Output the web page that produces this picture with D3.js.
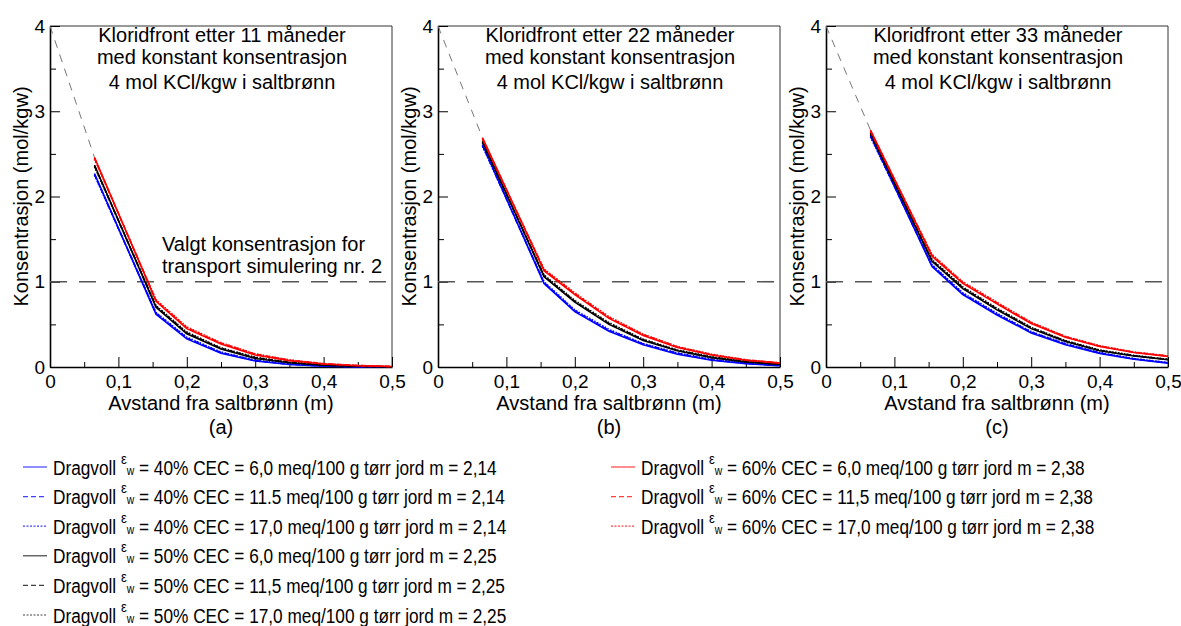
<!DOCTYPE html>
<html>
<head>
<meta charset="utf-8">
<script src="https://cdn.jsdelivr.net/npm/d3@7"></script>
<style>
  body { margin: 0; background: #fff; }
  text { font-family: "Liberation Sans", Arial, sans-serif; fill: #000; }
</style>
</head>
<body>
<div id="chart"></div>
<script>
// distance from the salt well (m), shared by every series
const xDist = [0.065, 0.155, 0.2, 0.25, 0.3, 0.35, 0.4, 0.45, 0.5];

// panel (a), 11 months. name = panel + porosity + CEC
const a40_60  = [2.27, 0.62, 0.33, 0.16, 0.07, 0.03, 0.010, 0.003, 0.000];
const a40_115 = [2.26, 0.63, 0.34, 0.17, 0.075, 0.033, 0.012, 0.004, 0.001];
const a40_170 = [2.25, 0.64, 0.35, 0.175, 0.08, 0.036, 0.013, 0.004, 0.001];
const a50_60  = [2.37, 0.70, 0.39, 0.21, 0.10, 0.05, 0.020, 0.008, 0.002];
const a50_115 = [2.36, 0.71, 0.40, 0.22, 0.11, 0.053, 0.022, 0.009, 0.002];
const a50_170 = [2.35, 0.72, 0.41, 0.225, 0.115, 0.056, 0.024, 0.010, 0.003];
const a60_60  = [2.46, 0.77, 0.45, 0.27, 0.14, 0.075, 0.035, 0.015, 0.005];
const a60_115 = [2.45, 0.78, 0.46, 0.28, 0.15, 0.080, 0.038, 0.017, 0.006];
const a60_170 = [2.44, 0.79, 0.47, 0.285, 0.155, 0.083, 0.040, 0.018, 0.006];

// panel (b), 22 months
const b40_60  = [2.61, 0.98, 0.65, 0.42, 0.26, 0.15, 0.080, 0.040, 0.015];
const b40_115 = [2.60, 0.99, 0.66, 0.43, 0.27, 0.16, 0.085, 0.043, 0.017];
const b40_170 = [2.59, 1.00, 0.67, 0.44, 0.275, 0.165, 0.090, 0.045, 0.018];
const b50_60  = [2.65, 1.06, 0.76, 0.50, 0.31, 0.19, 0.110, 0.060, 0.030];
const b50_115 = [2.64, 1.07, 0.77, 0.51, 0.32, 0.195, 0.115, 0.063, 0.032];
const b50_170 = [2.63, 1.08, 0.78, 0.52, 0.325, 0.20, 0.120, 0.065, 0.034];
const b60_60  = [2.69, 1.13, 0.85, 0.57, 0.37, 0.23, 0.140, 0.080, 0.045];
const b60_115 = [2.68, 1.14, 0.86, 0.58, 0.38, 0.235, 0.145, 0.083, 0.047];
const b60_170 = [2.67, 1.15, 0.87, 0.59, 0.385, 0.24, 0.150, 0.085, 0.048];

// panel (c), 33 months
const c40_60  = [2.72, 1.18, 0.85, 0.61, 0.40, 0.26, 0.160, 0.090, 0.045];
const c40_115 = [2.71, 1.19, 0.86, 0.62, 0.41, 0.27, 0.165, 0.095, 0.050];
const c40_170 = [2.70, 1.20, 0.87, 0.63, 0.415, 0.275, 0.170, 0.100, 0.052];
const c50_60  = [2.75, 1.24, 0.92, 0.67, 0.45, 0.30, 0.190, 0.130, 0.085];
const c50_115 = [2.74, 1.25, 0.93, 0.68, 0.46, 0.305, 0.195, 0.133, 0.088];
const c50_170 = [2.73, 1.26, 0.94, 0.69, 0.465, 0.31, 0.200, 0.136, 0.090];
const c60_60  = [2.78, 1.30, 0.98, 0.74, 0.51, 0.35, 0.240, 0.170, 0.125];
const c60_115 = [2.77, 1.31, 0.99, 0.75, 0.52, 0.355, 0.245, 0.173, 0.128];
const c60_170 = [2.76, 1.32, 1.00, 0.76, 0.525, 0.36, 0.250, 0.176, 0.130];

const months = [11, 22, 33];
const panelTags = ["(a)", "(b)", "(c)"];
const wellConc = 4;          // concentration in the salt well
const chosenConc = 1;        // chosen concentration (dashed line)

// legend rows, same order as the series in each panel
const legendEps = ["40%", "40%", "40%", "50%", "50%", "50%", "60%", "60%", "60%"];
const legendCec = ["6,0", "11.5", "17,0", "6,0", "11,5", "17,0", "6,0", "11,5", "17,0"];
const legendM = ["2,14", "2,14", "2,14", "2,25", "2,25", "2,25", "2,38", "2,38", "2,38"];

const panelSeries = [
    [a40_60, a40_115, a40_170, a50_60, a50_115, a50_170, a60_60, a60_115, a60_170],
    [b40_60, b40_115, b40_170, b50_60, b50_115, b50_170, b60_60, b60_115, b60_170],
    [c40_60, c40_115, c40_170, c50_60, c50_115, c50_170, c60_60, c60_115, c60_170]
];

const colors = ["#0000ff", "#0000ff", "#0000ff", "#000000", "#000000", "#000000", "#ff0000", "#ff0000", "#ff0000"];
const dashes = [null, "5,3", "1.5,1.5", null, "5,3", "1.5,1.5", null, "5,3", "1.5,1.5"];

const width = 1181, height = 626;
const panelLeft = [50, 438, 826];
const plotW = 342, plotTop = 26, plotH = 341;
const labelSize = 20, tickSize = 19, legendSize = 20;
const legendRowWidth = 444;   // width of a legend row in the original (condensed text)

const svg = d3.select("#chart").append("svg")
    .attr("width", width)
    .attr("height", height);

const comma = d3.formatLocale({decimal: ",", thousands: " ", grouping: [3], currency: ["", ""]});
const fmtX = d => d === 0 ? "0" : comma.format(".1f")(d);

const x = d3.scaleLinear().domain([0, 0.5]).range([0, plotW]);
const y = d3.scaleLinear().domain([0, 4]).range([plotH, 0]);

const line = d3.line()
    .x((d, i) => x(xDist[i]))
    .y(d => y(d));

panelSeries.forEach((series, p) => {
    const g = svg.append("g")
        .attr("transform", `translate(${panelLeft[p]} ${plotTop})`);

    // frame top + right
    g.append("path")
        .attr("d", `M0,0H${plotW}V${plotH}`)
        .attr("fill", "none")
        .attr("stroke", "#333")
        .attr("stroke-width", 1);

    // minor ticks
    g.append("g")
        .attr("transform", `translate(0 ${plotH})`)
        .call(d3.axisBottom(x).tickValues([0.05, 0.15, 0.25, 0.35, 0.45]).tickSize(-5).tickFormat(""))
        .call(a => a.select(".domain").remove());
    g.append("g")
        .call(d3.axisLeft(y).tickValues([0.5, 1.5, 2.5, 3.5]).tickSize(-6).tickFormat(""))
        .call(a => a.select(".domain").remove());

    const xAxis = g.append("g")
        .attr("transform", `translate(0 ${plotH})`)
        .call(d3.axisBottom(x).tickValues([0, 0.1, 0.2, 0.3, 0.4, 0.5]).tickSize(-10).tickSizeOuter(0).tickPadding(8).tickFormat(fmtX));
    const yAxis = g.append("g")
        .call(d3.axisLeft(y).tickValues([0, 1, 2, 3, 4]).tickSize(-10).tickSizeOuter(0).tickPadding(5).tickFormat(d3.format("d")));

    [xAxis, yAxis].forEach(a => {
        a.select(".domain").attr("stroke-width", 1.6);
        a.selectAll("text").attr("font-size", tickSize).attr("font-family", "Liberation Sans, Arial, sans-serif");
    });

    // chosen concentration
    g.append("line")
        .attr("x1", 0).attr("x2", plotW)
        .attr("y1", y(chosenConc)).attr("y2", y(chosenConc))
        .attr("stroke", "#555")
        .attr("stroke-width", 1.6)
        .attr("stroke-dasharray", "17,12");

    // from the well to the first computed point
    g.append("line")
        .attr("x1", x(0)).attr("y1", y(wellConc))
        .attr("x2", x(xDist[0])).attr("y2", y(series[6][0]))
        .attr("stroke", "#777")
        .attr("stroke-width", 1)
        .attr("stroke-dasharray", "8,7");

    g.selectAll(".curve")
        .data(series)
        .join("path")
        .attr("class", "curve")
        .attr("d", line)
        .attr("fill", "none")
        .attr("stroke", (d, i) => colors[i])
        .attr("stroke-width", 1.6)
        .attr("stroke-dasharray", (d, i) => dashes[i]);

    // title
    const title = [`Kloridfront etter ${months[p]} måneder`, "med konstant konsentrasjon", "4 mol KCl/kgw i saltbrønn"];
    const titleY = [16, 38, 63];
    g.selectAll(".title")
        .data(title)
        .join("text")
        .attr("class", "title")
        .attr("x", plotW / 2 + 1)
        .attr("y", (d, i) => titleY[i])
        .attr("text-anchor", "middle")
        .attr("font-size", labelSize)
        .text(d => d);

    if (p === 0) {
        g.selectAll(".note")
            .data(["Valgt konsentrasjon for", "transport simulering nr. 2"])
            .join("text")
            .attr("class", "note")
            .attr("x", 112)
            .attr("y", (d, i) => 225 + i * 22)
            .attr("font-size", labelSize)
            .text(d => d);
    }

    g.append("text")
        .attr("x", plotW / 2)
        .attr("y", plotH + 43)
        .attr("text-anchor", "middle")
        .attr("font-size", labelSize)
        .text("Avstand fra saltbrønn (m)");

    g.append("text")
        .attr("x", plotW / 2)
        .attr("y", plotH + 67)
        .attr("text-anchor", "middle")
        .attr("font-size", labelSize)
        .text(panelTags[p]);

    g.append("text")
        .attr("transform", `translate(-22 ${plotH / 2}) rotate(-90)`)
        .attr("text-anchor", "middle")
        .attr("font-size", labelSize)
        .text("Konsentrasjon (mol/kgw)");
});

// LEGEND
const legendCols = [{x: 23, rows: [0, 1, 2, 3, 4, 5]}, {x: 611, rows: [6, 7, 8]}];
const legend = svg.append("g").attr("class", "legend");
let squeeze = null;   // horizontal scale, set from the first row

legendCols.forEach(col => {
    col.rows.forEach((k, r) => {
        const yy = 467 + r * 29.6;
        legend.append("line")
            .attr("x1", col.x).attr("x2", col.x + 24)
            .attr("y1", yy).attr("y2", yy)
            .attr("stroke", colors[k])
            .attr("stroke-opacity", 0.75)
            .attr("stroke-width", 1.2)
            .attr("stroke-dasharray", dashes[k] ? (k % 3 === 1 ? "5,3" : "2,1.5") : null);

        const t = legend.append("text")
            .attr("font-size", legendSize);
        t.append("tspan").text("Dragvoll ");
        t.append("tspan").attr("font-size", 15).attr("dy", -11).text("ε");
        t.append("tspan").attr("font-size", 12).attr("dy", 11).text("w");
        t.append("tspan").text(` = ${legendEps[k]} CEC = ${legendCec[k]} meq/100 g tørr jord m = ${legendM[k]}`);

        if (squeeze === null) squeeze = legendRowWidth / t.node().getComputedTextLength();
        t.attr("transform", `translate(${col.x + 30} ${yy + 7.5}) scale(${squeeze} 1)`);
    });
});
</script>
</body>
</html>
